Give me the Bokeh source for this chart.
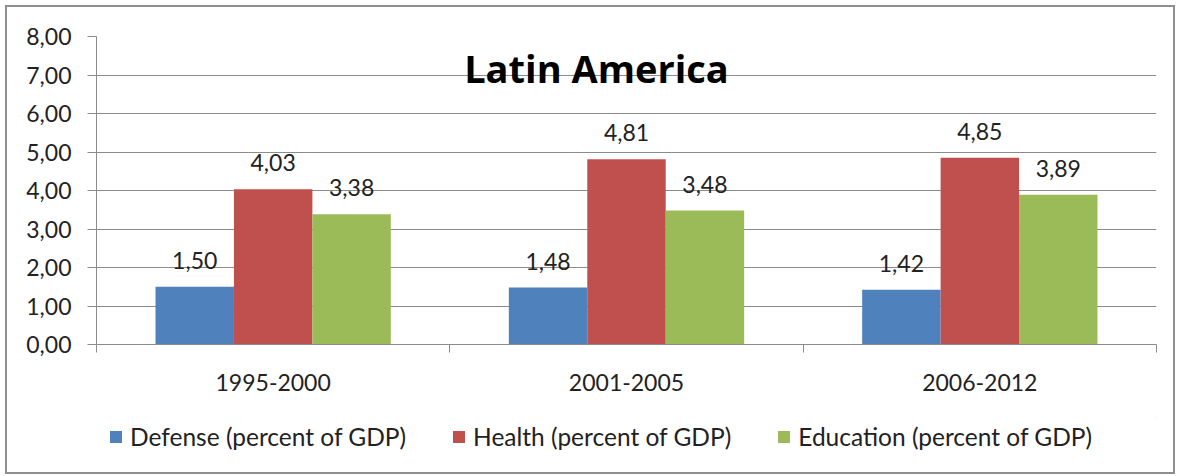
from bokeh.plotting import figure
from bokeh.layouts import column
from bokeh.models import (ColumnDataSource, Range1d, FixedTicker, LabelSet, Label,
                          Legend, LegendItem)
from bokeh.core.properties import value
from bokeh.transform import dodge
from bokeh.embed import file_html
from bokeh.resources import INLINE

categories = ["1995-2000", "2001-2005", "2006-2012"]
defense = [1.50, 1.48, 1.42]
health = [4.03, 4.81, 4.85]
education = [3.38, 3.48, 3.89]
series_names = ["Defense (percent of GDP)", "Health (percent of GDP)", "Education (percent of GDP)"]
colors = ["#4F81BD", "#C0504D", "#9BBB59"]
y_ticks = [0, 1, 2, 3, 4, 5, 6, 7, 8]

def fmt(v):
    return f"{v:.2f}".replace(".", ",")

xs = [i + 0.5 for i in range(len(categories))]
src = ColumnDataSource(dict(
    x=xs,
    defense=defense, health=health, education=education,
    defense_l=[fmt(v) for v in defense],
    health_l=[fmt(v) for v in health],
    education_l=[fmt(v) for v in education],
))

FONT = "Lato"
GRID = "#8c8c8c"
TXT = "#222222"

p = figure(width=1166, height=410, output_backend="svg", toolbar_location=None,
           x_range=Range1d(0, 3), y_range=Range1d(0, 8),
           min_border_left=89, min_border_top=29, min_border_right=17, min_border_bottom=73)
p.outline_line_color = None

bw = 0.222
keys = ["defense", "health", "education"]
offsets = [-bw, 0, bw]
for k, off, c in zip(keys, offsets, colors):
    p.vbar(x=dodge("x", off, range=p.x_range), top=k, width=bw, source=src,
           fill_color=c, line_color=None)
    p.add_layout(LabelSet(x=dodge("x", off, range=p.x_range), y=k, text=k + "_l", source=src,
                          text_align="center", text_baseline="alphabetic", y_offset=18,
                          text_font=value(FONT), text_font_size="23px", text_color=TXT))

# axes
p.xaxis.ticker = FixedTicker(ticks=xs, minor_ticks=[0, 1, 2, 3])
p.xaxis.major_label_overrides = {x: c for x, c in zip(xs, categories)}
p.xaxis.major_tick_out = 0
p.xaxis.major_tick_in = 0
p.xaxis.minor_tick_out = 8
p.xaxis.minor_tick_in = 0
p.xaxis.minor_tick_line_color = GRID
p.xaxis.axis_line_color = GRID
p.xaxis.major_label_standoff = 21
p.xaxis.major_label_text_font = FONT
p.xaxis.major_label_text_font_size = "23px"
p.xaxis.major_label_text_color = TXT

p.yaxis.ticker = FixedTicker(ticks=y_ticks)
p.yaxis.major_label_overrides = {t: fmt(t) for t in y_ticks}
p.yaxis.major_tick_out = 9
p.yaxis.major_tick_in = 0
p.yaxis.minor_tick_out = 0
p.yaxis.minor_tick_in = 0
p.yaxis.major_tick_line_color = GRID
p.yaxis.axis_line_color = GRID
p.yaxis.major_label_standoff = 16
p.yaxis.major_label_text_font = FONT
p.yaxis.major_label_text_font_size = "23px"
p.yaxis.major_label_text_color = TXT

p.xgrid.grid_line_color = None
p.ygrid.grid_line_color = GRID
p.ygrid.ticker = FixedTicker(ticks=y_ticks)

p.add_layout(Label(x=1.415, y=7.17, text="Latin America", text_align="center",
                   text_baseline="alphabetic", text_font="Open Sans", text_font_style="bold",
                   text_font_size="38px", text_color="#000000"))

# legend strip (its renderers sit outside the visible range; only the legend shows)
pl = figure(width=1166, height=55, output_backend="svg", toolbar_location=None,
            x_range=Range1d(0, 1), y_range=Range1d(0, 1),
            min_border_left=0, min_border_right=0, min_border_top=0, min_border_bottom=0)
pl.axis.visible = False
pl.grid.visible = False
pl.outline_line_color = None
leg_renderers = [pl.vbar(x=[5], top=[5], bottom=[4], width=0.1, fill_color=c, line_color=None)
                 for c in colors]
legend = Legend(items=[LegendItem(label=n, renderers=[r]) for n, r in zip(series_names, leg_renderers)],
                orientation="horizontal", location=(12, 21),
                border_line_alpha=0, background_fill_alpha=0,
                glyph_width=15, glyph_height=15, label_standoff=7, spacing=45,
                label_text_font=FONT, label_text_font_size="24.5px", label_text_color=TXT,
                margin=0, padding=0)
pl.add_layout(legend, "center")

layout = column(p, pl, spacing=0,
                styles={"border": "2px solid #8e8e8e", "margin-left": "5px", "margin-top": "5px"})

open("out.html", "w").write(file_html(layout, INLINE))
